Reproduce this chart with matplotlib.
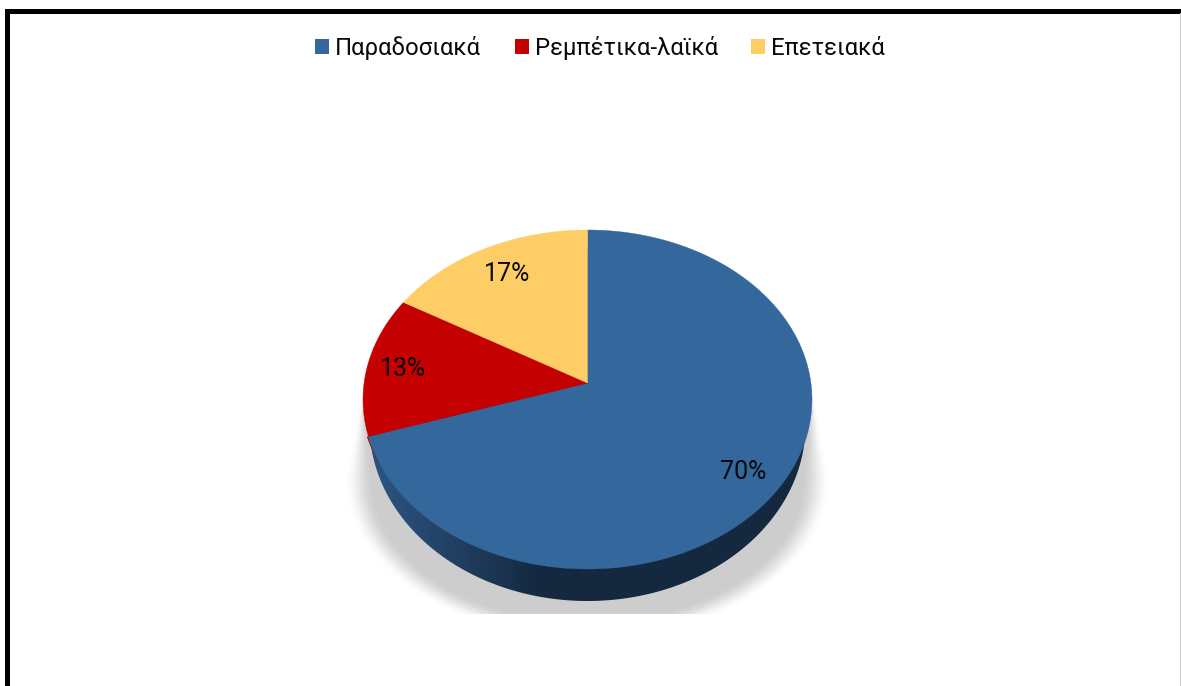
import numpy as np
import matplotlib
matplotlib.use("Agg")
import matplotlib.pyplot as plt
from matplotlib.patches import Patch, Polygon, Rectangle

categories = ["Παραδοσιακά", "Ρεμπέτικα-λαϊκά", "Επετειακά"]
values = [70.0, 13.4, 16.6]
colors = ["#34679C", "#C40000", "#FFCD66"]
side_red = "#8A0A0A"

W, H = 1181, 686
fig = plt.figure(figsize=(W/100, H/100), dpi=100, facecolor="white")
ax = fig.add_axes([0, 0, 1, 1])
ax.set_xlim(0, W); ax.set_ylim(H, 0); ax.axis("off")

# frame
ax.add_patch(Rectangle((5, 9), 4.5, H, fc="black", ec="none"))
ax.add_patch(Rectangle((5, 9), W, 4.5, fc="black", ec="none"))
ax.add_patch(Rectangle((1180, 13), 1, H, fc="#CCCCCC", ec="none"))

# perspective pie geometry
AX, AY = 587.5, 383.0
K, S, T = 0.0973, 223.4, 167.9
def proj(theta):
    x, y = np.sin(theta), np.cos(theta)
    d = 1 + K*y
    return AX + S*x/d, AY - T*y/d

# soft shadow below the pie
x0, x1, y0, y1 = 320, 860, 375, 614
ys, xs = np.mgrid[y0:y1, x0:x1] + 0.5
dx = np.abs(xs - AX)
upper = ys <= 480
w_out = 224 + (ys - 385)*0.2
soft = np.clip(1 + (ys - 385)*0.3, 1, 30)
alpha_up = (w_out - dx)/soft
r = np.sqrt((dx/243.0)**2 + ((ys - 480)/160.0)**2)
alpha_lo = (1 - r)/0.123
a = np.clip(np.where(upper, alpha_up, alpha_lo), 0, 1)
a = a*a*(3 - 2*a)
a[ys < 385] = 0
rgba = np.zeros(a.shape + (4,))
rgba[..., :3] = 0.805
rgba[..., 3] = a
ax.imshow(rgba, extent=(x0, x1, y1, y0), interpolation="bilinear", zorder=1, aspect="auto")

# side wall: lower ellipse with a horizontal gradient
ang = np.linspace(0, 2*np.pi, 500)
BA, BCY, BB = 218.0, 425.0, 176.0
wallp = Polygon(np.column_stack([AX + BA*np.cos(ang), BCY + BB*np.sin(ang)]),
                closed=True, fc="none", ec="none", zorder=2)
ax.add_patch(wallp)
gx = np.linspace(0, 1, 500)[None, :]
stops = np.interp(gx, [0, 0.05, 0.40, 1], [0, 0.05, 1, 1])[..., None]
c0, c1 = np.array([0x2C, 0x54, 0x80])/255, np.array([0x14, 0x28, 0x3F])/255
img = c0[None, None, :]*(1 - stops) + c1[None, None, :]*stops
im = ax.imshow(img, extent=(363, 812, 610, 240), aspect="auto", zorder=2.1)
im.set_clip_path(wallp)
ax.set_xlim(0, W); ax.set_ylim(H, 0)

# slices
fracs = np.array(values)/sum(values)
edges = np.concatenate([[0], np.cumsum(fracs)])*2*np.pi

# thin red sliver of the wall next to the blue slice
ph = np.linspace(edges[1], edges[1] - 0.2, 20)
sx, sy = proj(ph)
off = np.linspace(1.6, 0.2, 20)
ax.fill(np.r_[sx, (sx - off)[::-1]], np.r_[sy, sy[::-1]], color=side_red, zorder=2.2, lw=0)

for i, c in enumerate(colors):
    th = np.linspace(edges[i], edges[i+1], 300)
    px, py = proj(th)
    ax.add_patch(Polygon(np.column_stack([np.r_[AX, px], np.r_[AY, py]]), closed=True,
                         fc=c, ec=c, lw=0.3, zorder=3))

# labels
label_font = "Roboto"
label_pos = [(743, 472), (403, 369), (507, 274)]
for v, (lx, ly) in zip(values, label_pos):
    ax.text(lx, ly, f"{v/sum(values)*100:.0f}%", ha="center", va="center", fontsize=18,
            family=label_font, color="#0A0A0A", zorder=5)

# legend
handles = [Patch(fc=c, ec="none") for c in colors]
ax.legend(handles, categories, loc="upper center", bbox_to_anchor=(600/W, 1 - 36/H), ncol=3, frameon=False,
          prop={"family": label_font, "size": 17.2}, handlelength=0.586, handleheight=0.58,
          handletextpad=0.25, columnspacing=1.4, labelcolor="#0A0A0A", borderpad=0, borderaxespad=0)
fig.savefig("out.png", dpi=100)
